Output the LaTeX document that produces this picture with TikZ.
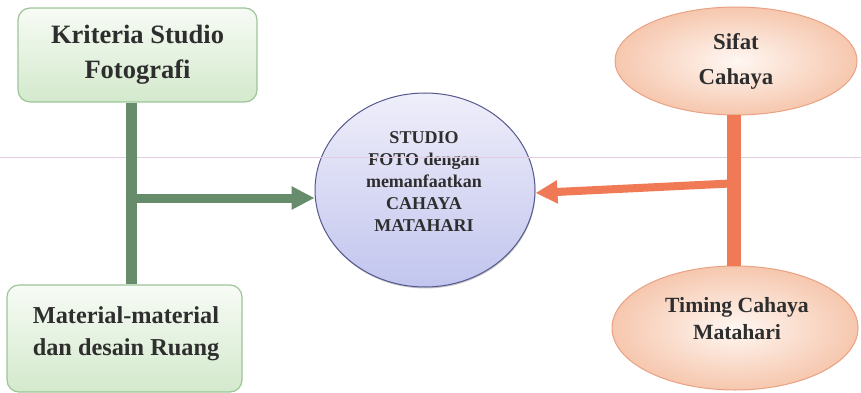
\documentclass[tikz,border=0pt]{standalone}
\usepackage{fontspec}
\setmainfont{Liberation Serif}
\usetikzlibrary{shapes.geometric,arrows.meta,shadows}

\definecolor{txt}{HTML}{2E2E2E}
\definecolor{gedge}{HTML}{9DC598}
\definecolor{gtop}{HTML}{F7FBF5}
\definecolor{gbot}{HTML}{D3E9CC}
\definecolor{gstem}{HTML}{668C6B}
\definecolor{oedge}{HTML}{E9A283}
\definecolor{oin}{HTML}{FFF7F2}
\definecolor{oout}{HTML}{F6C7AE}
\definecolor{ostem}{HTML}{F07A55}
\definecolor{cedge}{HTML}{55598E}
\definecolor{ctop}{HTML}{EFEEFA}
\definecolor{cbot}{HTML}{C2C5EE}
\definecolor{scan}{HTML}{E2CCE2}

\begin{document}
\begin{tikzpicture}[x=1pt,y=-1pt,
    greenbox/.style={draw=gedge, line width=1.2pt, rounded corners=12pt, top color=gtop, bottom color=gbot, text=txt, align=center},
    peachell/.style={ellipse, draw=oedge, line width=1pt, inner color=oin, outer color=oout, text=txt, align=center},
    suncircle/.style={ellipse, draw=cedge, line width=1pt, top color=ctop, bottom color=cbot, drop shadow={shadow xshift=0.5pt, shadow yshift=-1.5pt, opacity=0.45}},
    plaintext/.style={text=txt, align=center},
    gstemline/.style={draw=gstem, line width=11pt},
    garrow/.style={draw=gstem, line width=9pt, -{Triangle[length=23pt, width=22pt]}},
    ostemline/.style={draw=ostem, line width=14pt},
    oarrow/.style={draw=ostem, line width=8pt, -{Triangle[length=22pt, width=22pt]}},
    scanline/.style={draw=scan, line width=0.8pt}]
    \useasboundingbox (0,0) rectangle (861,393);

    \node[greenbox, minimum width=239pt, minimum height=94pt, font=\bfseries\fontsize{26.5}{35}\selectfont] (kriteria) at (137.5,55) {Kriteria Studio\\Fotografi};
    \node[greenbox, minimum width=235pt, minimum height=107pt] (material) at (124.5,338.5) {};
    \node[plaintext, font=\bfseries\fontsize{24.3}{32}\selectfont] (materialtxt) at (126,334) {Material-material\\dan desain Ruang};

    \node[peachell, minimum width=242pt, minimum height=108pt, font=\bfseries\fontsize{22.8}{35}\selectfont] (sifat) at (736,61) {Sifat\\Cahaya};
    \node[peachell, minimum width=246pt, minimum height=124pt] (timing) at (735,328) {};
    \node[plaintext, font=\bfseries\fontsize{21.7}{27}\selectfont] (timingtxt) at (737,319) {Timing Cahaya\\Matahari};

    \node[suncircle, minimum width=220pt, minimum height=194pt] (studio) at (425,190) {};
    \node[plaintext, font=\bfseries\fontsize{18}{22}\selectfont] (studiotxt) at (424,182) {STUDIO\\FOTO dengan\\memanfaatkan\\CAHAYA\\MATAHARI};

    \coordinate (scanL) at (0,157);
    \coordinate (scanR) at (861,157);
    \draw[scanline] (scanL) -- (scanR);

    \coordinate (gjoin) at (131,198);
    \draw[gstemline] (gjoin |- kriteria.south) -- (gjoin |- material.north);
    \draw[garrow] ([xshift=-5.5pt]gjoin) -- (gjoin -| studio.west);

    \coordinate (ojoin) at (733.5,183);
    \draw[ostemline] (ojoin |- sifat.south) -- (ojoin |- timing.north);
    \draw[oarrow] ([xshift=7pt]ojoin) -- ([yshift=-3pt]studio.east);

\end{tikzpicture}
\end{document}
